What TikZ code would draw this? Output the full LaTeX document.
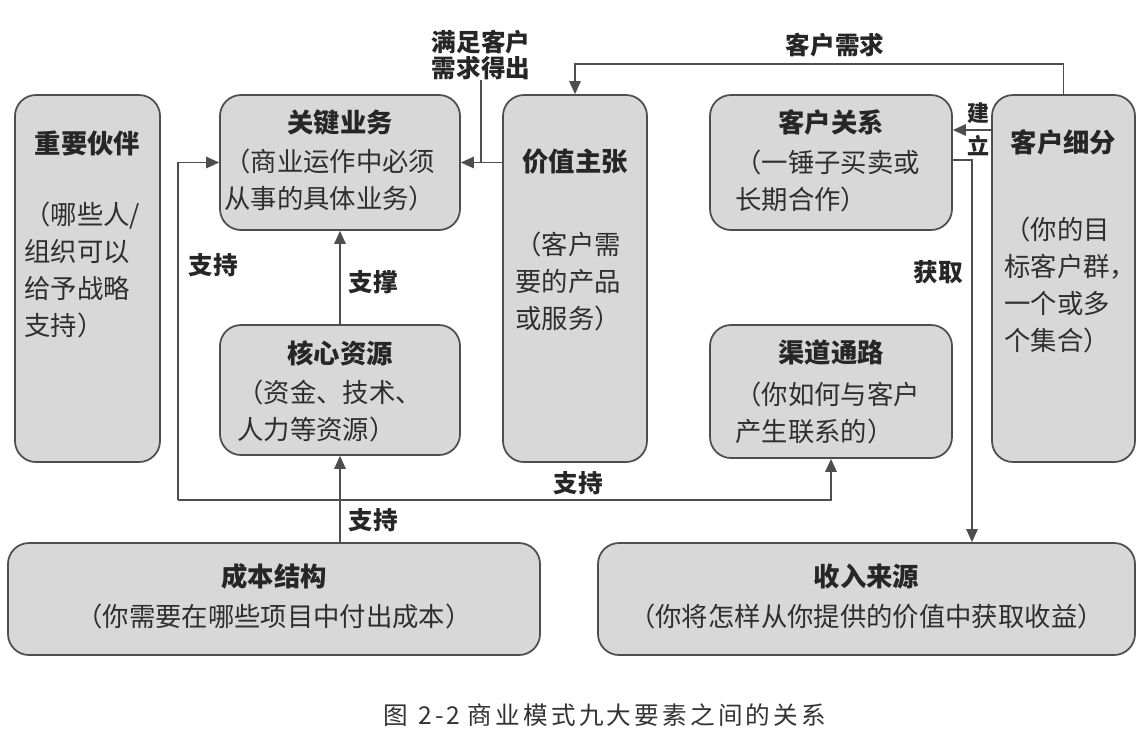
\documentclass[tikz,border=0pt]{standalone}
\usepackage{fontspec}
\setmainfont{Noto Sans CJK SC}
\newfontfamily\capfont{Noto Sans CJK SC}[LetterSpace=13]
\usetikzlibrary{arrows.meta, positioning}
\definecolor{bmFill}{HTML}{D8D8D8}
\definecolor{bmLine}{HTML}{4E4E4E}
\definecolor{bmText}{HTML}{2E2E2E}

\begin{document}
\begin{tikzpicture}[
    block/.style={rectangle, rounded corners=0.42cm, draw=bmLine, fill=bmFill,
                  line width=1pt, inner sep=0pt},
    ttl/.style={font=\fontsize{15}{18}\selectfont\bfseries, text=black!85, inner sep=0pt},
    desc/.style={font=\fontsize{15}{21.2}\selectfont, text=bmText, align=left,
                 inner sep=0pt, anchor=north west},
    lbl/.style={font=\fontsize{14}{14.7}\selectfont\bfseries, text=black!85,
                inner sep=0pt, align=center},
    link/.style={draw=bmLine, line width=0.8pt},
    arr/.style={link, -{Triangle[length=0.26cm, width=0.23cm]}},
  ]
  \useasboundingbox (0,0) rectangle (22.86,-14.94);

  % the nine blocks
  \node[block, minimum width=2.9cm,   minimum height=7.34cm] (kp)   at (1.75,-5.57)  {};
  \node[block, minimum width=4.8cm,   minimum height=2.7cm]  (ka)   at (6.8,-3.25)   {};
  \node[block, minimum width=4.8cm,   minimum height=2.6cm]  (kr)   at (6.8,-7.8)    {};
  \node[block, minimum width=2.88cm,  minimum height=7.34cm] (vp)   at (11.5,-5.57)  {};
  \node[block, minimum width=4.84cm,  minimum height=2.7cm]  (cr)   at (16.62,-3.25) {};
  \node[block, minimum width=4.84cm,  minimum height=2.66cm] (ch)   at (16.62,-7.83) {};
  \node[block, minimum width=2.86cm,  minimum height=7.34cm] (cs)   at (21.27,-5.57) {};
  \node[block, minimum width=10.64cm, minimum height=2.24cm] (cost) at (5.48,-11.98) {};
  \node[block, minimum width=10.74cm, minimum height=2.24cm] (rev)  at (17.33,-11.98) {};

  % titles
  \node[ttl] (kpT)   at ([yshift=-0.98cm]kp.north)   {重要伙伴};
  \node[ttl] (kaT)   at ([yshift=-0.56cm]ka.north)   {关键业务};
  \node[ttl] (krT)   at ([yshift=-0.58cm]kr.north)   {核心资源};
  \node[ttl] (vpT)   at ([yshift=-1.34cm]vp.north)   {价值主张};
  \node[ttl] (crT)   at ([yshift=-0.56cm]cr.north)   {客户关系};
  \node[ttl] (chT)   at ([yshift=-0.56cm]ch.north)   {渠道通路};
  \node[ttl] (csT)   at ([yshift=-0.96cm]cs.north)   {客户细分};
  \node[ttl] (costT) at ([yshift=-0.68cm]cost.north) {成本结构};
  \node[ttl] (revT)  at ([yshift=-0.68cm]rev.north)  {收入来源};

  % descriptions
  \node[desc] (kpD) at ([xshift=0.2cm,yshift=-2.14cm]kp.north west) {（哪些人/\\组织可以\\给予战略\\支持）};
  \node[desc] (kaD) at ([xshift=0.1cm,yshift=-1.08cm]ka.north west) {（商业运作中必须\\从事的具体业务）};
  \node[desc] (krD) at ([xshift=0.36cm,yshift=-1.1cm]kr.north west) {（资金、技术、\\人力等资源）};
  \node[desc] (vpD) at ([xshift=0.26cm,yshift=-2.74cm]vp.north west) {（客户需\\要的产品\\或服务）};
  \node[desc] (crD) at ([xshift=0.52cm,yshift=-1.1cm]cr.north west) {（一锤子买卖或\\长期合作）};
  \node[desc] (chD) at ([xshift=0.52cm,yshift=-1.14cm]ch.north west) {（你如何与客户\\产生联系的）};
  \node[desc] (csD) at ([xshift=0.26cm,yshift=-2.44cm]cs.north west) {（你的目\\标客户群，\\一个或多\\个集合）};
  \node[desc, anchor=center] (costD) at ([yshift=-1.48cm]cost.north) {（你需要在哪些项目中付出成本）};
  \node[desc, anchor=center] (revD)  at ([yshift=-1.48cm]rev.north)  {（你将怎样从你提供的价值中获取收益）};

  % connector labels
  \node[lbl] (need)  at (9.62,-1.1)   {满足客户\\需求得出};
  \node[lbl] (dem)   at (16.7,-0.9)   {客户需求};
  \node[lbl, font=\fontsize{12.5}{14}\selectfont\bfseries] (bld1) at (19.56,-2.26) {建};
  \node[lbl, font=\fontsize{12.5}{14}\selectfont\bfseries] (bld2) at (19.56,-2.92) {立};
  \node[lbl] (get)   at (18.76,-5.44) {获取};
  \node[lbl] (prop)  at (7.46,-5.64)  {支撑};
  \node[lbl] (sup1)  at (4.26,-5.3)   {支持};
  \node[lbl] (sup2)  at (11.56,-9.66) {支持};
  \node[lbl] (sup3)  at (7.46,-10.4)  {支持};

  % connectors
  \coordinate (spt) at (3.56,-10.0);
  \draw[arr] (vp.west |- ka.east) -- (ka.east);
  \draw[link] (need.south) -- (need.south |- ka.east);
  \draw[arr] (cs.north) -- ++(0,0.6) -| (vp.north);
  \draw[arr] (cs.west |- 0,-2.6) -- (cr.east |- 0,-2.6);
  \draw[arr] (cr.east |- 0,-3.2) -| (rev.north -| 19.44,0);
  \draw[arr] (kr.north) -- (ka.south);
  \draw[arr] (cost.north -| kr.south) -- (kr.south);
  \draw[arr] (spt) |- (ka.west);
  \draw[arr] (spt) -| (ch.south);

  % caption
  \node[font=\capfont\fontsize{14}{16}\selectfont, text=black!80, inner sep=0pt] (cap)
    at (12.1,-14.3) {图\hspace{0.4em}2-2\hspace{0.3em}商业模式九大要素之间的关系};
\end{tikzpicture}
\end{document}
